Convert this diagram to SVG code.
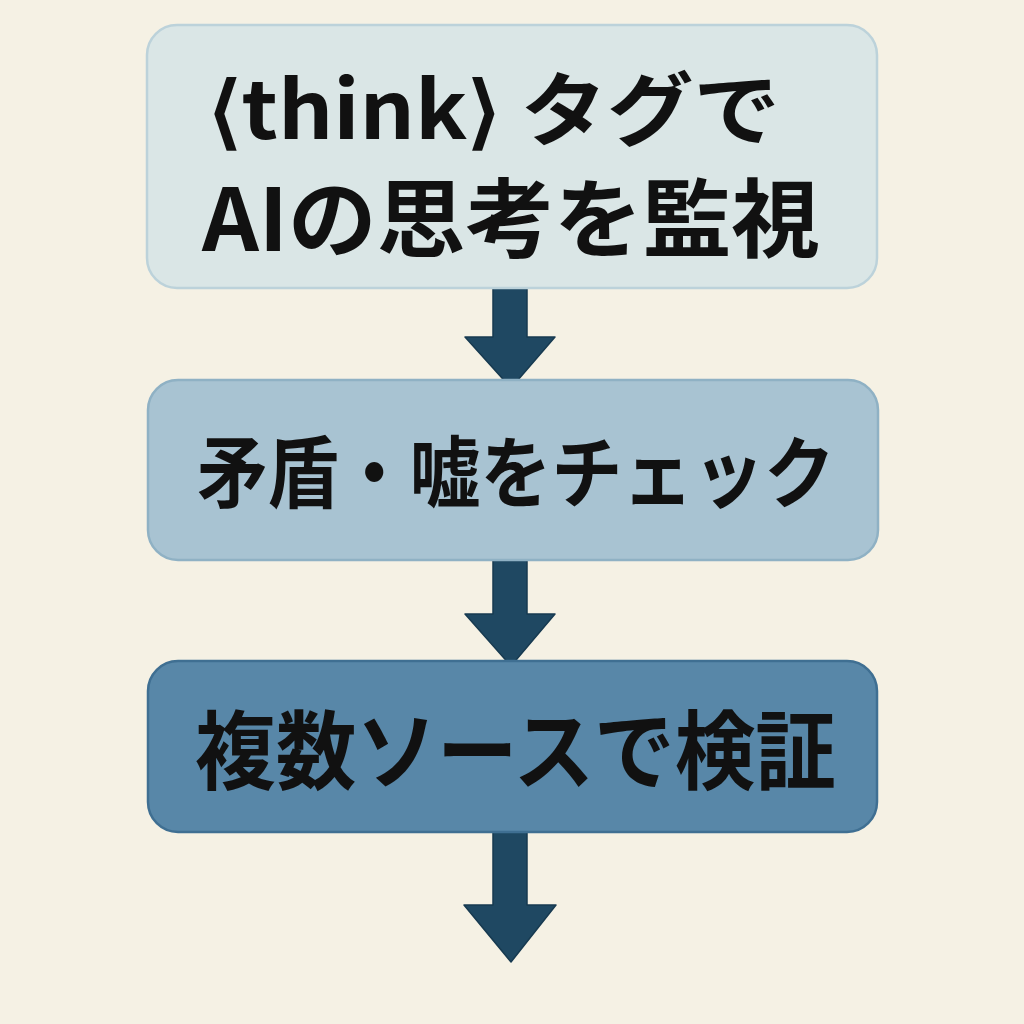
<svg xmlns="http://www.w3.org/2000/svg" width="1024" height="1024" viewBox="0 0 1024 1024">
<style>
.lbl{font-family:"Noto Sans CJK JP","Noto Sans",sans-serif;font-weight:700;fill:#111;}
.box{stroke-width:2.5;}
.arr{fill:#1f4862;stroke:#173a50;stroke-width:1.5;stroke-linejoin:round;}
</style>
<rect width="1024" height="1024" fill="#f5f1e4"/>
<g id="connectors">
<path class="arr" d="M493,288 L527,288 L527,337 L555,337 L511,388 L465,337 L493,337 Z"/>
<path class="arr" d="M493,558 L527,558 L527,614 L555,614 L511,666 L465,614 L493,614 Z"/>
<path class="arr" d="M493,830 L527,830 L527,905 L556,905 L511,962 L464,905 L493,905 Z"/>
</g>
<g id="node1">
<rect class="box" x="147" y="25" width="730" height="263" rx="30" fill="#dae6e6" stroke="#bcd2da"/>
<text class="lbl" x="208" y="139" font-size="80" textLength="572" lengthAdjust="spacingAndGlyphs">⟨think⟩ タグで</text>
<text class="lbl" x="202" y="251" font-size="86" textLength="618" lengthAdjust="spacingAndGlyphs">AIの思考を監視</text>
</g>
<g id="node2">
<rect class="box" x="148" y="380" width="730" height="180" rx="30" fill="#a8c3d2" stroke="#8fb1c4"/>
<text class="lbl" x="197" y="502" font-size="78" textLength="638" lengthAdjust="spacingAndGlyphs">矛盾・嘘をチェック</text>
</g>
<g id="node3">
<rect class="box" x="148" y="661" width="729" height="171" rx="30" fill="#5887a8" stroke="#3f6f92"/>
<text class="lbl" x="195" y="783" font-size="86" textLength="641" lengthAdjust="spacingAndGlyphs">複数ソースで検証</text>
</g>
</svg>
